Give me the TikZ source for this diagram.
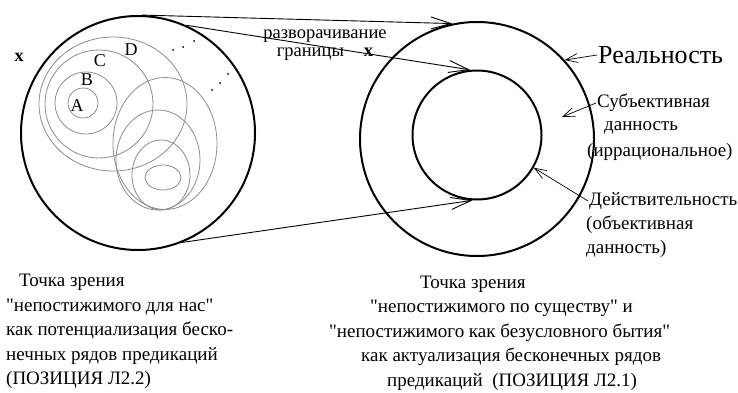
\documentclass[tikz,border=0pt]{standalone}
\usepackage{fontspec}
\setmainfont{Liberation Serif}
\newfontfamily\plainserif{Liberation Serif}
\newcommand\dq{{\plainserif"}}
\usetikzlibrary{positioning,arrows.meta}
\definecolor{ringgray}{HTML}{8C8C8C}

\tikzset{
  bigring/.style={draw, circle, line width=2pt, inner sep=0pt},
  thinring/.style={draw=ringgray, line width=0.8pt},
  longarrow/.style={line width=0.9pt, -{Straight Barb[length=20pt,width=12pt]}},
  notearrow/.style={line width=0.7pt, -{Straight Barb[length=12pt,width=9pt]}},
  txt/.style={font=\fontsize{19}{24.5}\selectfont, inner sep=1pt},
  letter/.style={font=\fontsize{18}{18}\selectfont, inner sep=0pt},
}

\begin{document}
\begin{tikzpicture}[x=1pt, y=1pt]
    \useasboundingbox (0,0) rectangle (738,392);

    % the two big pictures
    \node[bigring, minimum size=234pt] (left) at (138,259) {};
    \node[bigring, minimum size=234pt] (outer) at (477,253) {};
    \node[bigring, minimum size=129pt] (inner) at (477,257) {};

    % nested predications A..D
    \draw[thinring] (83,289) circle (15pt);
    \draw[thinring] (86,289) circle (31pt);
    \draw[thinring] (99,288) circle (54pt);
    \draw[thinring] (113,288) ellipse [x radius=74pt, y radius=67pt];
    \node[letter] (la) at (77,286) {A};
    \node[letter] (lb) at (87,312) {B};
    \node[letter] (lc) at (100,331) {C};
    \node[letter] (ld) at (131,342) {D};

    \draw[thinring] (165,248.5) ellipse [x radius=52pt, y radius=66pt];
    \draw[thinring] (158,232) ellipse [x radius=42pt, y radius=50pt];
    \draw[thinring] (161,217) ellipse [x radius=29pt, y radius=35pt];
    \draw[thinring] (163,214.5) ellipse [x radius=18pt, y radius=12.5pt];

    \foreach \x/\y in {173/342, 183/345, 194/351, 212/302, 220/309, 228/318} {
        \fill (\x,\y) circle (1pt);
    }

    \node[font=\fontsize{18}{18}\selectfont\bfseries] (xmark) at (19,335) {x};

    % unfolding of the border
    \node[font=\fontsize{18.5}{18.5}\selectfont, align=center, inner sep=0pt] (unfold) at (325,347)
        {разворачивание\\границы\hspace{20pt}\textbf{x}};
    \draw[longarrow] (left.88) -- (outer.102);
    \draw[longarrow] (left.66) -- (inner.96);
    \draw[longarrow] (left.-68) -- (inner.266);

    % right labels
    \node[txt, font=\fontsize{26}{30}\selectfont, anchor=west] (real) at (597,337) {Реальность};
    \draw[notearrow] (real.west) -- (outer.42);

    \node[txt, anchor=west] (subj) at (596,289) {Субъективная};
    \node[txt, anchor=west] (subjb) at (603,264) {данность};
    \node[txt, anchor=west] (subjc) at (586,240) {(иррациональное)};
    \coordinate (gap) at (562,275);
    \draw[notearrow] (subj.west) -- (gap);

    \node[txt, anchor=west] (act) at (588,191) {Действительность};
    \node[txt, anchor=west] (actb) at (585,167) {(объективная};
    \node[txt, anchor=west] (actc) at (585,143) {данность)};
    \draw[notearrow] (act.west) -- (inner.-30);

    % captions
    \node[txt, anchor=north west, align=left] (capl) at (5,119)
        {\hspace{13pt}Точка зрения\\\dq непостижимого для нас\dq\\как потенциализация беско-\\нечных рядов предикаций\\(ПОЗИЦИЯ Л2.2)};
    \node[txt, anchor=base west] (capr1) at (419,104) {Точка зрения};
    \node[txt, anchor=base west] (capr2) at (369,79.5) {\dq непостижимого по существу\dq\ и};
    \node[txt, anchor=base west] (capr3) at (328,55) {\dq непостижимого как безусловного бытия\dq};
    \node[txt, anchor=base west] (capr4) at (360,30.5) {как актуализация бесконечных рядов};
    \node[txt, anchor=base west] (capr5) at (386,6) {предикаций\ \ (ПОЗИЦИЯ Л2.1)};
\end{tikzpicture}
\end{document}
